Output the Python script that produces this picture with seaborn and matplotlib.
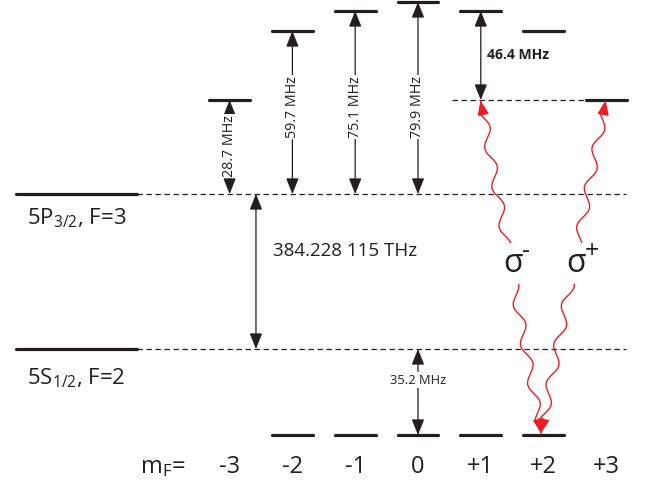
import numpy as np
import pandas as pd
import matplotlib
matplotlib.use("Agg")
import matplotlib.pyplot as plt
import seaborn as sns

# --- Data (x in m_F units, y in diagram height units) ---
MF_VALUES = [-3, -2, -1, 0, 1, 2, 3]
MF_LABELS = ["-3", "-2", "-1", "0", "+1", "+2", "+3"]
UPPER_LEVELS = [387, 456, 476, 485, 476, 456, 387]   # 5P3/2 F=3 sublevels (shifted)
GROUND_MF = [-2, -1, 0, 1, 2]
GROUND_LEVEL = 52                                    # 5S1/2 F=2 sublevels (shifted)
P_LINE = 293                                         # unshifted 5P3/2, F=3
S_LINE = 138                                         # unshifted 5S1/2, F=2
SPLIT_MF = [-3, -2, -1, 0]
SPLIT_LABELS = ["28.7 MHz", "59.7 MHz", "75.1 MHz", "79.9 MHz"]
SPLIT_LABEL_Y = [341, 380, 380, 380]
GROUND_SHIFT_LABEL = "35.2 MHz"
DETUNING_LABEL = "46.4 MHz"
OPTICAL_LABEL = "384.228 115 THz"
STATE_LABELS = ["5P$_{3/2}$, F=3", "5S$_{1/2}$, F=2"]
SIGMA_LABELS = [("σ", "-"), ("σ", "+")]

# --- Style ---
BLACK = "#231f20"
RED = "#ed1c24"
HALF = 0.326          # half width of a sublevel bar (m_F units)
LEFT_BAR = (-6.40, -4.475)
DASH_END = 3.31

sns.set_theme(style="white")
plt.rcParams["font.family"] = ["Open Sans", "DejaVu Sans"]
plt.rcParams["mathtext.fontset"] = "custom"
plt.rcParams["mathtext.rm"] = "Open Sans"
plt.rcParams["mathtext.it"] = "Open Sans:italic"
plt.rcParams["mathtext.bf"] = "Open Sans:bold"

fig = plt.figure(figsize=(6.45, 4.87), dpi=100)
ax = fig.add_axes([0, 0, 1, 1])
ax.set_xlim(-6.656, 3.615)
ax.set_ylim(0, 487)
ax.axis("off")

# --- Energy levels drawn with seaborn (one unit per bar) ---
rows = []
for mf, y in zip(MF_VALUES, UPPER_LEVELS):
    for x in (mf - HALF, mf + HALF):
        rows.append({"level": f"up{mf}", "x": x, "y": y})
for mf in GROUND_MF:
    for x in (mf - HALF, mf + HALF):
        rows.append({"level": f"g{mf}", "x": x, "y": GROUND_LEVEL})
for name, y in (("P", P_LINE), ("S", S_LINE)):
    for x in LEFT_BAR:
        rows.append({"level": name, "x": x, "y": y})
levels = pd.DataFrame(rows)
sns.lineplot(data=levels, x="x", y="y", units="level", estimator=None,
             sort=False, color=BLACK, lw=2.3, ax=ax, legend=False)
for line in ax.lines:
    line.set_clip_on(False)

# dashed reference lines
dash = (0, (4.3, 2.9))
ax.hlines([P_LINE, S_LINE], LEFT_BAR[1], DASH_END, colors=BLACK, lw=0.9, linestyles=[dash])
ax.hlines(UPPER_LEVELS[0], 0.541, 2.659, colors=BLACK, lw=0.9, linestyles=[dash])


def double_arrow(x, y0, y1):
    ax.annotate("", xy=(x, y1), xytext=(x, y0),
                arrowprops=dict(arrowstyle="<|-|>,head_length=0.6,head_width=0.24",
                                mutation_scale=16, color=BLACK, lw=0.9,
                                shrinkA=0, shrinkB=0))


# light-shift arrows of the excited sublevels
for mf, lab, ly in zip(SPLIT_MF, SPLIT_LABELS, SPLIT_LABEL_Y):
    y_top = UPPER_LEVELS[MF_VALUES.index(mf)]
    double_arrow(mf, P_LINE, y_top)
    ax.text(mf, ly, lab, rotation=90, ha="center", va="center", fontsize=10.3,
            color=BLACK, bbox=dict(fc="white", ec="none", pad=1.0))

# detuning arrow at m_F=+1
double_arrow(1, UPPER_LEVELS[0], UPPER_LEVELS[4])
ax.text(1.10, 432, DETUNING_LABEL, ha="left", va="center", fontsize=10,
        fontweight="bold", color=BLACK)

# ground-state shift
double_arrow(0, S_LINE, GROUND_LEVEL)
ax.text(0, 107, GROUND_SHIFT_LABEL, ha="center", va="center", fontsize=9.3,
        color=BLACK, bbox=dict(fc="white", ec="none", pad=1.0))

# optical transition
double_arrow(-2.58, S_LINE, P_LINE)
ax.text(-2.309, 236, OPTICAL_LABEL, ha="left", va="center", fontsize=13.5, color=BLACK)

# state labels
ax.text(-6.226, 269, STATE_LABELS[0], ha="left", va="center", fontsize=16, color=BLACK)
ax.text(-6.226, 109, STATE_LABELS[1], ha="left", va="center", fontsize=16, color=BLACK)

# m_F labels
ax.text(-4.427, 20, r"m$_\mathrm{F}$=", ha="left", va="center", fontsize=17, color=BLACK)
for mf, lab in zip(MF_VALUES, MF_LABELS):
    ax.text(mf, 20, lab, ha="center", va="center", fontsize=17, color=BLACK)


def wavy_arrow(p0, p1, amp=4.5, wavelength=40.0):
    """Photon-like wavy line between two data points, heads at both ends."""
    (x0, y0), (x1, y1) = ax.transData.transform([p0, p1])
    length = np.hypot(x1 - x0, y1 - y0)
    ux, uy = (x1 - x0) / length, (y1 - y0) / length
    s = np.linspace(0, length, 500)
    env = np.clip(np.minimum(s, length - s) / 14.0, 0, 1)
    off = amp * np.sin(2 * np.pi * s / wavelength) * env
    px = x0 + ux * s - uy * off
    py = y0 + uy * s + ux * off
    pts = ax.transData.inverted().transform(np.column_stack([px, py]))
    ax.plot(pts[:, 0], pts[:, 1], color=RED, lw=1.0)
    inv = ax.transData.inverted()
    for (tx, ty), sign in (((x0, y0), 1), ((x1, y1), -1)):
        back = inv.transform((tx + sign * ux * 10, ty + sign * uy * 10))
        tip = inv.transform((tx, ty))
        ax.annotate("", xy=tip, xytext=back,
                    arrowprops=dict(arrowstyle="-|>,head_length=0.6,head_width=0.25",
                                    mutation_scale=14, color=RED, lw=1.0,
                                    shrinkA=0, shrinkB=0))


wavy_arrow((1.96, 54), (1.0, 386))
wavy_arrow((1.96, 54), (2.99, 386))

# sigma labels, superscript set by hand so the sign stays a short hyphen / plus
for (sym, sign), x in zip(SIGMA_LABELS, (1.52, 2.52)):
    ax.text(x, 215, sym, ha="center", va="baseline", fontsize=23, color=BLACK,
            bbox=dict(fc="white", ec="none", pad=3.0))
    ax.annotate(sign, xy=(x, 215), xytext=(6.0, 10), textcoords="offset points",
                ha="left", va="baseline", fontsize=18, color=BLACK)

fig.savefig("out.png", dpi=100)
